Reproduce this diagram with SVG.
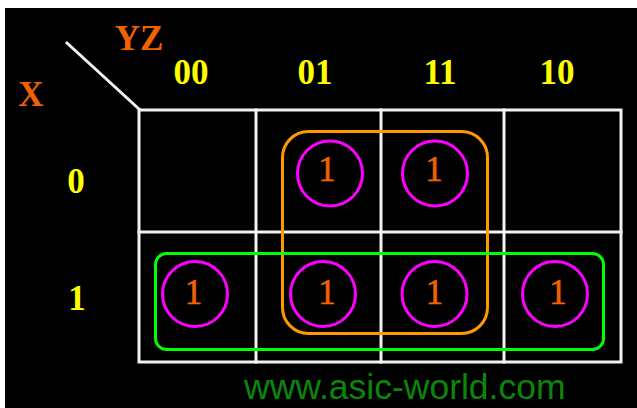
<svg xmlns="http://www.w3.org/2000/svg" width="637" height="408" viewBox="0 0 637 408">
<style>
.grid{fill:none;stroke:#f2f2f2;stroke-width:3;stroke-linecap:square}
.hdr{font-family:"Liberation Serif","Times New Roman",serif;font-weight:bold;font-size:35px;fill:#ffff00;text-anchor:middle}
.var{font-family:"Liberation Serif","Times New Roman",serif;font-weight:bold;font-size:35px;fill:#f26100;text-anchor:middle}
.one{font-family:"Liberation Serif","Times New Roman",serif;font-size:35px;fill:#f26100;text-anchor:middle;stroke:#f26100;stroke-width:0.6}
.ring{fill:none;stroke:#ff00ff;stroke-width:3}
</style>
<rect x="0" y="0" width="637" height="408" fill="#ffffff"/>
<rect x="5" y="8" width="632" height="400" fill="#000000"/>
<g id="grid">
<line class="grid" x1="67" y1="43" x2="139" y2="109"/>
<rect class="grid" x="139" y="110" width="482" height="252"/>
<line class="grid" x1="139" y1="232" x2="621" y2="232"/>
<line class="grid" x1="256" y1="110" x2="256" y2="362"/>
<line class="grid" x1="381" y1="110" x2="381" y2="362"/>
<line class="grid" x1="504" y1="110" x2="504" y2="362"/>
</g>
<g id="labels">
<text class="var" x="139" y="50">YZ</text>
<text class="var" x="31" y="106">X</text>
<text class="hdr" x="191" y="84">00</text>
<text class="hdr" x="315" y="84">01</text>
<text class="hdr" x="440" y="84">11</text>
<text class="hdr" x="557" y="84">10</text>
<text class="hdr" x="76" y="193">0</text>
<text class="hdr" x="77" y="310">1</text>
</g>
<g id="group-orange"><rect x="282.5" y="131.5" width="205" height="202" rx="26" fill="none" stroke="#ff9900" stroke-width="3"/></g>
<g id="group-green"><rect x="155.5" y="253.5" width="448" height="96" rx="11" fill="none" stroke="#00ff00" stroke-width="3"/></g>
<g id="m1"><circle class="ring" cx="330" cy="173.5" r="32.5"/><text class="one" x="327" y="181">1</text></g>
<g id="m3"><circle class="ring" cx="435" cy="173.5" r="32.5"/><text class="one" x="434" y="181">1</text></g>
<g id="m4"><circle class="ring" cx="195" cy="294" r="32.5"/><text class="one" x="193.5" y="304">1</text></g>
<g id="m5"><circle class="ring" cx="323" cy="294" r="32.5"/><text class="one" x="327" y="304">1</text></g>
<g id="m7"><circle class="ring" cx="434.5" cy="294" r="32.5"/><text class="one" x="434.5" y="304">1</text></g>
<g id="m6"><circle class="ring" cx="555" cy="294" r="32.5"/><text class="one" x="558" y="304">1</text></g>
<text x="244" y="399" font-family="'Liberation Sans',Arial,sans-serif" font-size="35.5" fill="#0a870a">www.asic-world.com</text>
</svg>
